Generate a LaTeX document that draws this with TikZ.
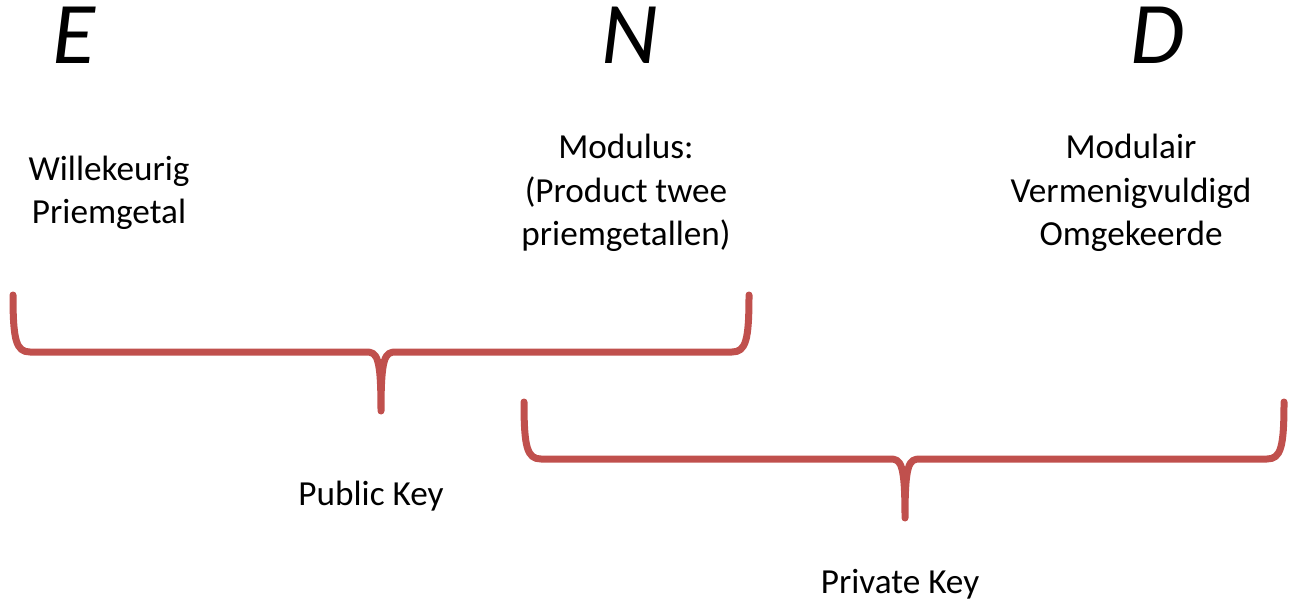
\documentclass[tikz,border=0pt]{standalone}
\usepackage{fontspec}
\setmainfont{Carlito}
\definecolor{braceRed}{HTML}{C0504D}

\begin{document}
\begin{tikzpicture}[x=0.5pt,y=0.5pt,yscale=-1,xscale=1,
    keybrace/.style={draw=braceRed,line width=3.5pt,line cap=round,line join=round},
    bigletter/.style={inner sep=0pt,anchor=base,font=\fontsize{44}{50}\selectfont\itshape},
    desc/.style={inner sep=0pt,anchor=base,align=center,font=\fontsize{17.6}{21.8}\selectfont}]
\useasboundingbox (0,0) rectangle (1295,609);
% letters
\draw (74,64) node [bigletter] (E) {E};
\draw (630,64) node [bigletter] (N) {N};
\draw (1158,64) node [bigletter] (D) {D};
% descriptions (base = last line)
\draw (109,224) node [desc] (Edesc) {Willekeurig\\Priemgetal};
\draw (626,246) node [desc] (Ndesc) {Modulus:\\(Product twee\\priemgetallen)};
\draw (1131,246) node [desc] (Ddesc) {Modulair\\Vermenigvuldigd\\Omgekeerde};
% braces
\draw [keybrace] (13,295) .. controls (13,340) and (16,352) .. (30,352) -- (366,352) .. controls (377,352) and (381,356) .. (381,411)
                 .. controls (381,356) and (385,352) .. (396,352) -- (732,352) .. controls (746,352) and (749,340) .. (749,295) ;
\draw [keybrace] (524,402) .. controls (524,447) and (527,459) .. (541,459) -- (890,459) .. controls (901,459) and (905,463) .. (905,518)
                 .. controls (905,463) and (909,459) .. (920,459) -- (1267,459) .. controls (1281,459) and (1284,447) .. (1284,402) ;
% keys
\draw (371,505) node [desc] (pub) {Public Key};
\draw (900,593) node [desc] (priv) {Private Key};
\end{tikzpicture}
\end{document}
